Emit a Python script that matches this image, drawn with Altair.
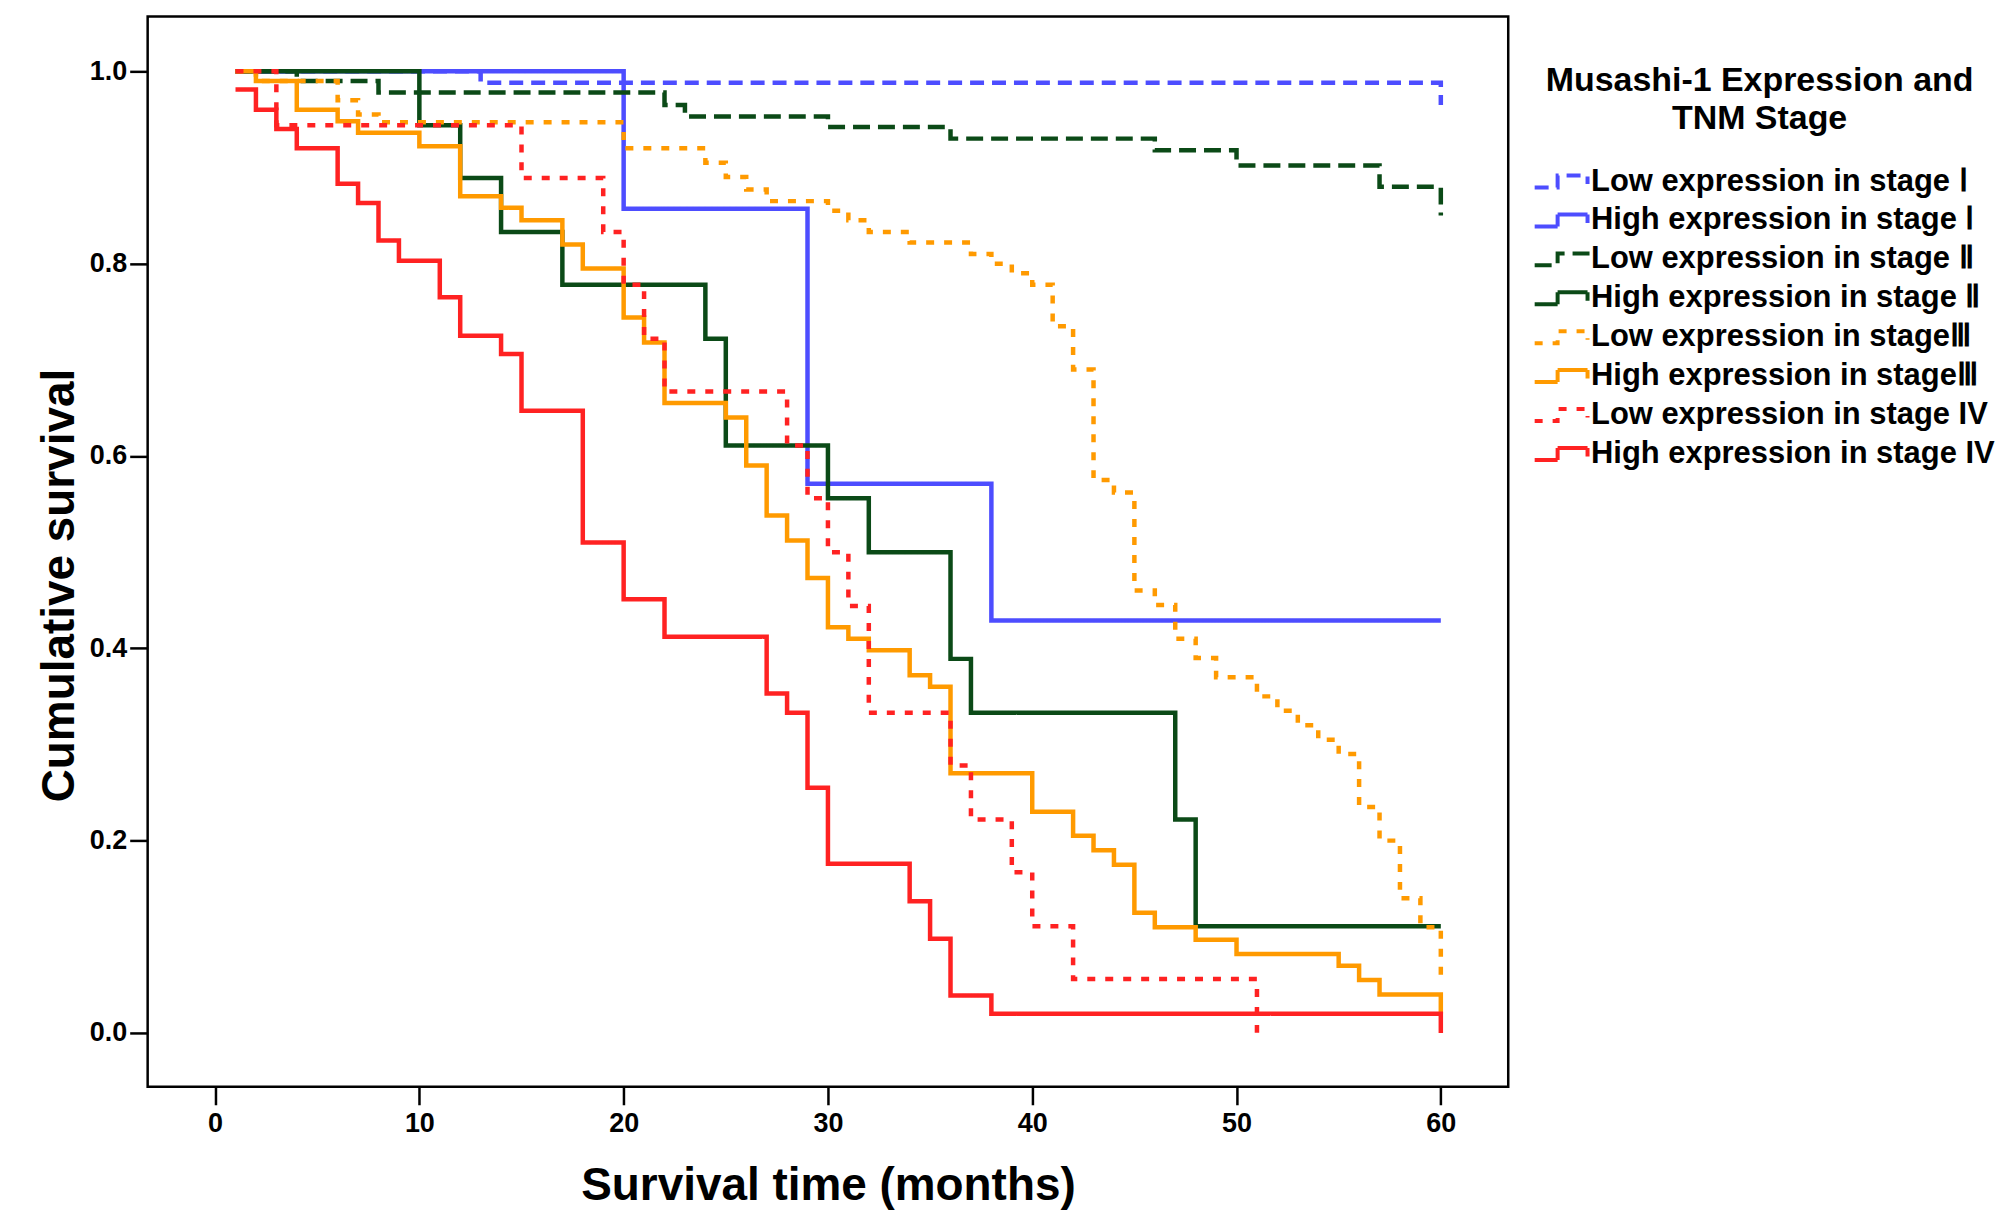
import altair as alt
import pandas as pd

# Kaplan-Meier step values (time in months, survival after each step)
low_1_t = [1, 13, 60]
low_1_s = [1.0, 0.988, 0.965]

high_1_t = [1, 20, 29, 38, 60]
high_1_s = [1.0, 0.857, 0.571, 0.429, 0.429]

low_2_t = [1, 4, 8, 22, 23, 30, 36, 46, 50, 57, 60]
low_2_s = [1.0, 0.99, 0.978, 0.965, 0.953, 0.942, 0.93, 0.918, 0.902, 0.88, 0.85]

high_2_t = [1, 10, 12, 14, 17, 24, 25, 30, 32, 36, 37, 47, 48, 60]
high_2_s = [1.0, 0.944, 0.889, 0.833, 0.778, 0.722, 0.611, 0.556, 0.5, 0.389, 0.333,
            0.222, 0.111, 0.111]

low_3_t = [1, 2, 6, 7, 8, 20, 24, 25, 26, 27, 30, 31, 32, 34, 37, 38, 39, 40, 41, 42,
           43, 44, 45, 46, 47, 48, 49, 51, 52, 53, 54, 55, 56, 57, 58, 59, 60]
low_3_s = [1.0, 0.99, 0.97, 0.955, 0.947, 0.92, 0.905, 0.89, 0.877, 0.865, 0.855, 0.845,
           0.833, 0.822, 0.81, 0.8, 0.79, 0.778, 0.735, 0.69, 0.575, 0.562, 0.46, 0.445,
           0.41, 0.39, 0.37, 0.35, 0.335, 0.32, 0.305, 0.29, 0.235, 0.2, 0.14, 0.11, 0.06]

high_3_t = [1, 2, 4, 6, 7, 10, 12, 14, 15, 17, 18, 20, 21, 22, 25, 26, 27, 28, 29, 30,
            31, 32, 34, 35, 36, 40, 42, 43, 44, 45, 46, 48, 50, 55, 56, 57, 60]
high_3_s = [1.0, 0.99, 0.96, 0.948, 0.936, 0.922, 0.87, 0.858, 0.845, 0.82, 0.795, 0.744,
            0.718, 0.655, 0.64, 0.59, 0.538, 0.512, 0.473, 0.422, 0.41, 0.398, 0.372, 0.36,
            0.27, 0.23, 0.205, 0.19, 0.175, 0.125, 0.11, 0.097, 0.082, 0.07, 0.055, 0.04, 0.02]

low_4_t = [1, 3, 15, 19, 20, 21, 22, 28, 29, 30, 31, 32, 36, 37, 39, 40, 42, 51]
low_4_s = [1.0, 0.944, 0.889, 0.833, 0.778, 0.722, 0.667, 0.611, 0.556, 0.5, 0.444, 0.333,
           0.278, 0.222, 0.167, 0.111, 0.056, 0.0]

high_4_t = [1, 2, 3, 4, 6, 7, 8, 9, 11, 12, 14, 15, 18, 20, 22, 27, 28, 29, 30, 34, 35,
            36, 38, 60]
high_4_s = [0.981, 0.96, 0.94, 0.92, 0.883, 0.863, 0.824, 0.803, 0.765, 0.725, 0.706,
            0.647, 0.51, 0.451, 0.412, 0.353, 0.333, 0.255, 0.176, 0.137, 0.098, 0.039,
            0.02, 0.0]

groups = [
    "Low expression in stage Ⅰ",
    "High expression in stage Ⅰ",
    "Low expression in stage Ⅱ",
    "High expression in stage Ⅱ",
    "Low expression in stageⅢ",
    "High expression in stageⅢ",
    "Low expression in stage IV",
    "High expression in stage IV",
]
colors = ["#4d4dff", "#4d4dff", "#0b4a17", "#0b4a17", "#ff9a00", "#ff9a00", "#ff2222", "#ff2222"]
dashes = [[14, 8], [1, 0], [17, 8], [1, 0], [8, 10], [1, 0], [8, 10], [1, 0]]

series = [(low_1_t, low_1_s), (high_1_t, high_1_s), (low_2_t, low_2_s), (high_2_t, high_2_s),
          (low_3_t, low_3_s), (high_3_t, high_3_s), (low_4_t, low_4_s), (high_4_t, high_4_s)]

rows = []
for name, (ts, ss) in zip(groups, series):
    for t, s in zip(ts, ss):
        rows.append({"group": name, "time": t, "survival": s})
df = pd.DataFrame(rows)

step_path = "M-1,1.2H3.6V-1.2H9.6V0.5"

font = "Liberation Sans"

chart = alt.Chart(df).mark_line(
    interpolate="step-after", strokeWidth=4.5, strokeCap="butt"
).encode(
    x=alt.X("time:Q", title="Survival time (months)",
            scale=alt.Scale(domain=[-3.3, 63.3], nice=False, zero=False),
            axis=alt.Axis(values=[0, 10, 20, 30, 40, 50, 60], format="d")),
    y=alt.Y("survival:Q", title="Cumulative survival",
            scale=alt.Scale(domain=[-0.056, 1.057], nice=False, zero=False),
            axis=alt.Axis(values=[0, 0.2, 0.4, 0.6, 0.8, 1.0], format=".1f", titleY=570)),
    color=alt.Color("group:N", scale=alt.Scale(domain=groups, range=colors),
                    sort=groups,
                    legend=alt.Legend(title=["Musashi-1 Expression and", "TNM Stage"],
                                      orient="none", legendX=1380, legendY=48,
                                      symbolType=step_path, symbolSize=100,
                                      symbolStrokeWidth=4, labelOffset=36,
                                      symbolOffset=0)),
    strokeDash=alt.StrokeDash("group:N", scale=alt.Scale(domain=groups, range=dashes),
                              sort=groups, legend=None),
    order=alt.Order("time:Q"),
).properties(
    width=1364, height=1073,
    padding={"left": 28, "top": 7, "right": 5, "bottom": 5}
).configure_view(
    stroke="black", strokeWidth=2.5
).configure_axis(
    grid=False, domain=False, tickColor="black", tickSize=18, tickWidth=2.5,
    labelFont=font, labelFontWeight="bold", labelFontSize=27, labelColor="black",
    titleFont=font, titleFontWeight="bold", titleFontSize=46, titleColor="black"
).configure_axisX(
    labelPadding=6, titlePadding=27
).configure_axisY(
    labelPadding=3, titlePadding=6
).configure_legend(
    titleFont=font, titleFontWeight="bold", titleFontSize=34, titleColor="black",
    titleAnchor="middle", titleAlign="center", titleLimit=0, titlePadding=30,
    titleLineHeight=38,
    labelFont=font, labelFontWeight="bold", labelFontSize=31, labelColor="black",
    labelLimit=0, rowPadding=7, padding=0
)

chart.save("out.html", embed_options={"renderer": "svg", "actions": False})
